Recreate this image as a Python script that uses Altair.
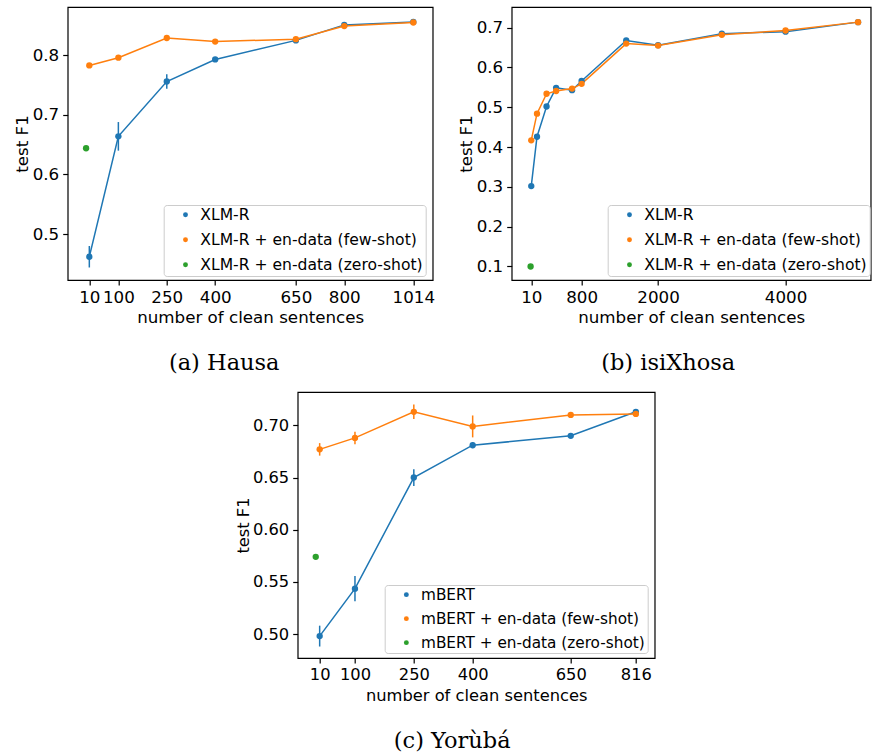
import altair as alt
import pandas as pd

# ---------------- data ----------------
# (a) Hausa
ha_x = [10, 100, 250, 400, 650, 800, 1014]
ha_base = [0.462, 0.664, 0.756, 0.793, 0.825, 0.851, 0.856]
ha_base_err = [0.018, 0.024, 0.012, 0.004, 0.003, 0.003, 0.002]
ha_few = [0.783, 0.796, 0.829, 0.823, 0.827, 0.849, 0.855]
ha_few_err = [0.003, 0.003, 0.003, 0.003, 0.003, 0.003, 0.003]
ha_zero_x = [0]
ha_zero = [0.644]

# (b) isiXhosa
xh_x = [10, 100, 250, 400, 650, 800, 1500, 2000, 3000, 4000, 5138]
xh_base = [0.302, 0.426, 0.502, 0.549, 0.543, 0.566, 0.668, 0.656, 0.685, 0.690, 0.714]
xh_base_err = [0.006, 0.005, 0.005, 0.004, 0.004, 0.004, 0.004, 0.003, 0.003, 0.003, 0.003]
xh_few = [0.417, 0.484, 0.534, 0.541, 0.547, 0.559, 0.660, 0.655, 0.682, 0.693, 0.714]
xh_few_err = [0.006, 0.005, 0.004, 0.004, 0.004, 0.004, 0.003, 0.003, 0.003, 0.003, 0.003]
xh_zero_x = [0]
xh_zero = [0.100]

# (c) Yoruba
yo_x = [10, 100, 250, 400, 650, 816]
yo_base = [0.498, 0.5435, 0.650, 0.681, 0.690, 0.713]
yo_base_err = [0.010, 0.012, 0.008, 0.003, 0.002, 0.002]
yo_few = [0.677, 0.688, 0.713, 0.699, 0.710, 0.711]
yo_few_err = [0.006, 0.006, 0.007, 0.0105, 0.002, 0.003]
yo_zero_x = [0]
yo_zero = [0.574]

COLORS = ["#1f77b4", "#ff7f0e", "#2ca02c"]
SANS = "DejaVu Sans"
SERIF = "DejaVu Serif"


def panel(model, xs, base, base_err, few, few_err, zx, zy,
          xdomain, xticks, ydomain, yticks, yfmt, w, h, lx, ly,
          caption, cap_dx, cap_off, fs, lfs):
    labels = [model, f"{model} + en-data (few-shot)", f"{model} + en-data (zero-shot)"]
    rows = []
    for x, m, e in zip(xs, base, base_err):
        rows.append(dict(x=x, y=m, lo=m - e, hi=m + e, s=labels[0], c=COLORS[0], o=0))
    for x, m, e in zip(xs, few, few_err):
        rows.append(dict(x=x, y=m, lo=m - e, hi=m + e, s=labels[1], c=COLORS[1], o=1))
    for x, m in zip(zx, zy):
        rows.append(dict(x=x, y=m, lo=m, hi=m, s=labels[2], c=COLORS[2], o=2))
    df = pd.DataFrame(rows)

    xsc = alt.Scale(domain=xdomain, nice=False, zero=False)
    ysc = alt.Scale(domain=ydomain, nice=False, zero=False)
    xax = alt.Axis(values=xticks, format="d", title="number of clean sentences",
                   labelOverlap=False, labelFlush=False,
                   labelFontSize=fs, titleFontSize=fs, titlePadding=4)
    yax = alt.Axis(values=yticks, format=yfmt, title="test F1",
                   labelOverlap=False, labelFlush=False,
                   labelFontSize=fs, titleFontSize=fs, titlePadding=1)
    csc = alt.Scale(domain=labels, range=COLORS)

    base_chart = alt.Chart(df)
    X = alt.X("x:Q", scale=xsc, axis=xax)
    lines = base_chart.transform_filter(alt.datum.o < 2).mark_line(
        strokeWidth=1.5).encode(
        x=X, y=alt.Y("y:Q", scale=ysc, axis=yax),
        color=alt.Color("c:N", scale=None),
        detail="s:N",
        order=alt.Order("x:Q"))
    bars = base_chart.transform_filter(alt.datum.o < 2).mark_rule(
        strokeWidth=1.5).encode(
        x=X, y=alt.Y("lo:Q", scale=ysc, axis=yax), y2="hi:Q",
        color=alt.Color("c:N", scale=None))
    pts = base_chart.mark_circle(size=40, opacity=1).encode(
        x=X, y=alt.Y("y:Q", scale=ysc, axis=yax),
        color=alt.Color("s:N", scale=csc, legend=alt.Legend(
            title=None, orient="none", legendX=lx, legendY=ly,
            symbolType="circle", symbolSize=24, symbolStrokeWidth=0,
            symbolOpacity=1,
            labelFont=SANS, labelFontSize=lfs, labelColor="black",
            labelLimit=500, fillColor="rgba(255,255,255,0.8)",
            strokeColor="#cccccc", cornerRadius=3, padding=2,
            symbolOffset=12, labelOffset=7, rowPadding=8)))
    return alt.layer(lines, bars, pts).properties(
        width=w, height=h,
        title=alt.TitleParams(caption, orient="bottom", font=SERIF,
                              fontSize=22.5, fontWeight="normal",
                              color="black", offset=cap_off, dx=cap_dx))


pa = panel("XLM-R", ha_x, ha_base, ha_base_err, ha_few, ha_few_err,
           ha_zero_x, ha_zero, [-57, 1074], ha_x, [0.423, 0.881],
           [0.5, 0.6, 0.7, 0.8], ".1f", 365, 273, 96, 198, "(a) Hausa", -26,
           26, 16.7, 15.6)
pb = panel("XLM-R", xh_x, xh_base, xh_base_err, xh_few, xh_few_err,
           xh_zero_x, xh_zero, [-297, 5336], [10, 800, 2000, 4000],
           [0.066, 0.752], [0.1, 0.2, 0.3, 0.4, 0.5, 0.6, 0.7], ".1f",
           359, 273, 96, 198, "(b) isiXhosa", -23, 26, 16.7, 15.6)
pc = panel("mBERT", yo_x, yo_base, yo_base_err, yo_few, yo_few_err,
           yo_zero_x, yo_zero, [-46, 864], yo_x, [0.477, 0.732],
           [0.50, 0.55, 0.60, 0.65, 0.70], ".2f", 357, 266, 87, 193,
           "(c) Yorùbá", -24, 26, 16.3, 15.3)

spacer = alt.Chart(pd.DataFrame({"v": [0]})).mark_point(opacity=0).encode(
    x=alt.value(100), y=alt.value(5)).properties(
    width=167, height=10, view=alt.ViewBackground(stroke=None))

top = alt.hconcat(pa, pb, spacing=21).resolve_scale(
    color="independent").resolve_legend(color="independent")
bottom = alt.hconcat(spacer, pc, spacing=0).resolve_scale(
    color="independent").resolve_legend(color="independent")
chart = alt.vconcat(top, bottom, spacing=15).resolve_scale(
    color="independent").resolve_legend(color="independent").properties(
    padding={"left": 12.7, "top": 6, "right": 0, "bottom": 0},
    background="white"
).configure_view(stroke="black", strokeWidth=1.2).configure_axis(
    domain=False, grid=False, tickColor="black", tickSize=5, tickWidth=1.2,
    labelFont=SANS, labelColor="black",
    titleFont=SANS, titleFontWeight="normal",
    titleColor="black", labelPadding=4)

chart.save("out.html", embed_options={"renderer": "svg", "actions": False})
